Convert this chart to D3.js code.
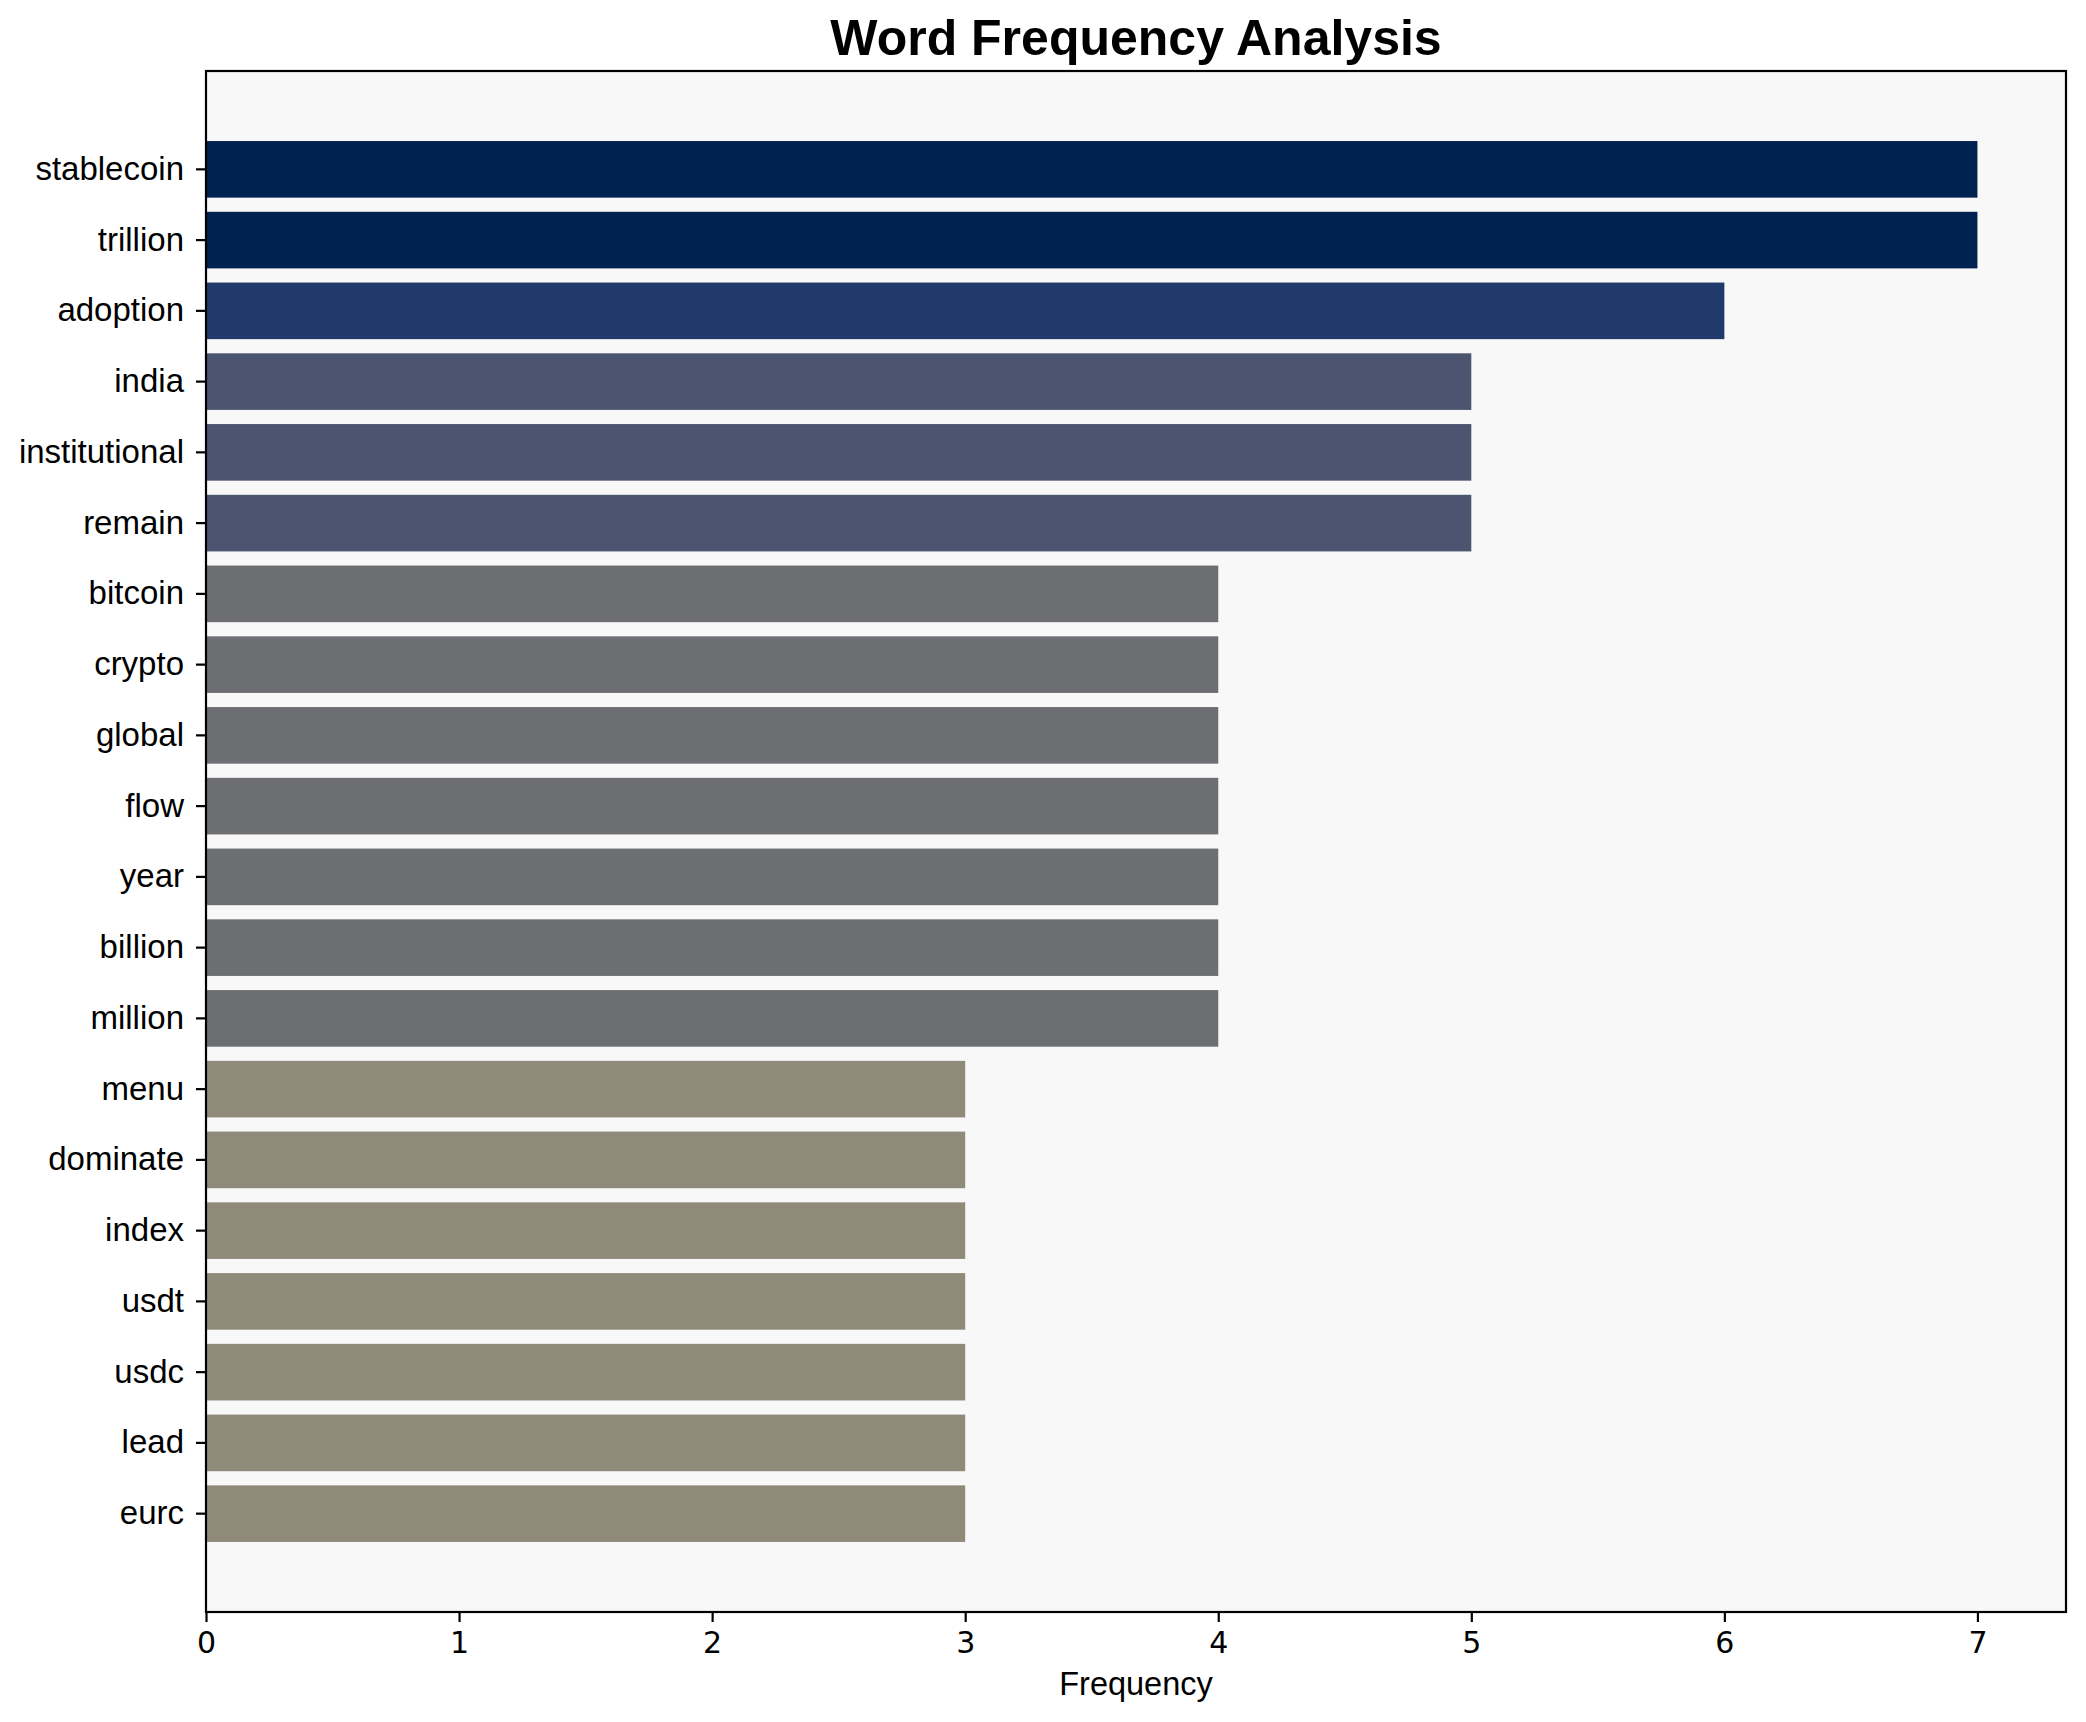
<!DOCTYPE html>
<html>
<head>
<meta charset="utf-8">
<script src="https://cdn.jsdelivr.net/npm/d3@7"></script>
<style>
  html, body { margin: 0; padding: 0; background: #ffffff; }
  svg { display: block; }
</style>
</head>
<body>
<svg id="chart" width="2086" height="1722"></svg>
<script>
const words = ["stablecoin","trillion","adoption","india","institutional","remain","bitcoin","crypto","global","flow","year","billion","million","menu","dominate","index","usdt","usdc","lead","eurc"];
const counts = [7,7,6,5,5,5,4,4,4,4,4,4,4,3,3,3,3,3,3,3];
const xTicks = [0,1,2,3,4,5,6,7];
const colorLevels = [3,4,5,6,7];
const colorValues = ["#8f8a79","#6d6e72","#4c556f","#203a6b","#002250"];

(function () {
const svg = d3.select("#chart");
const mLeft = 206, mRight = 2066, mTop = 71, mBottom = 1612;

const x = d3.scaleLinear().domain([0, 7.35]).range([mLeft, mRight]);
const y = d3.scaleBand().domain(words).range([mTop, mBottom]).paddingInner(0.2).paddingOuter(0.99);
const color = d3.scaleOrdinal().domain(colorLevels).range(colorValues);

// plot background
svg.append("rect").attr("x", mLeft).attr("y", mTop).attr("width", mRight - mLeft).attr("height", mBottom - mTop).attr("fill", "#f8f8f8");

// bars
svg.append("g").selectAll("rect").data(words).join("rect")
  .attr("x", x(0))
  .attr("y", d => y(d))
  .attr("width", (d, i) => x(counts[i]) - x(0))
  .attr("height", y.bandwidth())
  .attr("fill", (d, i) => color(counts[i]));

// frame
svg.append("rect").attr("x", mLeft).attr("y", mTop).attr("width", mRight - mLeft).attr("height", mBottom - mTop)
  .attr("fill", "none").attr("stroke", "#000").attr("stroke-width", 2.2);

// x axis
const xAxis = svg.append("g").attr("transform", `translate(0,${mBottom})`)
  .call(d3.axisBottom(x).tickValues(xTicks).tickFormat(d3.format("d")).tickSize(10).tickPadding(10));
xAxis.select(".domain").remove();
xAxis.selectAll(".tick line").attr("stroke", "#000").attr("stroke-width", 2.2);
xAxis.selectAll(".tick text").attr("font-family", "'DejaVu Sans', sans-serif").attr("font-size", 30).attr("fill", "#000");

// y axis
const yAxis = svg.append("g").attr("transform", `translate(${mLeft},0)`)
  .call(d3.axisLeft(y).tickSize(10).tickPadding(12));
yAxis.select(".domain").remove();
yAxis.selectAll(".tick line").attr("stroke", "#000").attr("stroke-width", 2.2);
yAxis.selectAll(".tick text").attr("font-family", "'Liberation Sans', Arial, sans-serif").attr("font-size", 33).attr("fill", "#000");

// title
svg.append("text").attr("x", (mLeft + mRight) / 2).attr("y", 55).attr("text-anchor", "middle")
  .attr("font-family", "'Liberation Sans', Arial, sans-serif").attr("font-weight", "bold").attr("font-size", 50)
  .text("Word Frequency Analysis");

// x label
svg.append("text").attr("x", (mLeft + mRight) / 2).attr("y", 1695).attr("text-anchor", "middle")
  .attr("font-family", "'Liberation Sans', Arial, sans-serif").attr("font-size", 32.5)
  .text("Frequency");
})();
</script>
</body>
</html>
